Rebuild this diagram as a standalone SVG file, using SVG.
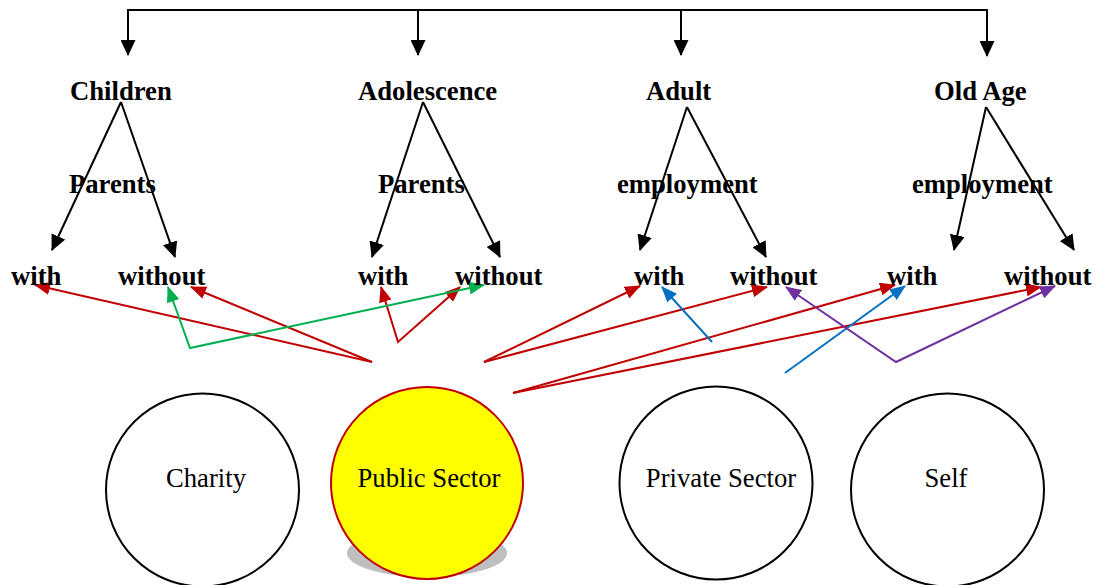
<svg xmlns="http://www.w3.org/2000/svg" width="1098" height="585" viewBox="0 0 1098 585">
<style>
.lbl{font-family:"Liberation Serif","Times New Roman",serif;font-size:26.67px;font-weight:bold;fill:#000}
.ctr{font-family:"Liberation Serif","Times New Roman",serif;font-size:26.67px;fill:#000}
.blk{stroke:#000;stroke-width:2;fill:none;marker-end:url(#ahK)}
.red{stroke:#c00000;stroke-width:2;fill:none;marker-end:url(#ahR)}
.red2{stroke:#c00000;stroke-width:2;fill:none;marker-start:url(#ahR);marker-end:url(#ahR)}
.grn{stroke:#00b050;stroke-width:2;fill:none;marker-start:url(#ahG);marker-end:url(#ahG)}
.blu{stroke:#0070c0;stroke-width:2;fill:none;marker-end:url(#ahB)}
.pur{stroke:#7030a0;stroke-width:2;fill:none;marker-start:url(#ahP);marker-end:url(#ahP)}
.circ{fill:#fff;stroke:#000;stroke-width:2}
</style>
<defs>
<marker id="ahK" markerUnits="userSpaceOnUse" markerWidth="16" markerHeight="15" viewBox="0 0 16 15" refX="15" refY="7.5" orient="auto-start-reverse"><path d="M0,0 L16,7.5 L0,15 z" fill="#000"/></marker>
<marker id="ahR" markerUnits="userSpaceOnUse" markerWidth="16" markerHeight="13" viewBox="0 0 16 13" refX="15" refY="6.5" orient="auto-start-reverse"><path d="M0,0 L16,6.5 L0,13 z" fill="#c00000"/></marker>
<marker id="ahG" markerUnits="userSpaceOnUse" markerWidth="16" markerHeight="13" viewBox="0 0 16 13" refX="15" refY="6.5" orient="auto-start-reverse"><path d="M0,0 L16,6.5 L0,13 z" fill="#00b050"/></marker>
<marker id="ahB" markerUnits="userSpaceOnUse" markerWidth="16" markerHeight="13" viewBox="0 0 16 13" refX="15" refY="6.5" orient="auto-start-reverse"><path d="M0,0 L16,6.5 L0,13 z" fill="#0070c0"/></marker>
<marker id="ahP" markerUnits="userSpaceOnUse" markerWidth="16" markerHeight="13" viewBox="0 0 16 13" refX="15" refY="6.5" orient="auto-start-reverse"><path d="M0,0 L16,6.5 L0,13 z" fill="#7030a0"/></marker>
</defs>
<rect width="1098" height="585" fill="#fff"/>

<g id="connectors">
<line x1="127" y1="10" x2="988" y2="10" stroke="#000" stroke-width="2"/>
<line class="blk" x1="128" y1="10" x2="128" y2="55"/>
<line class="blk" x1="418" y1="10" x2="418" y2="55"/>
<line class="blk" x1="681" y1="10" x2="681" y2="55"/>
<line class="blk" x1="987" y1="10" x2="987" y2="56"/>
<line class="blk" x1="121" y1="102" x2="52" y2="250"/>
<line class="blk" x1="121" y1="102" x2="175" y2="257"/>
<line class="blk" x1="423" y1="102" x2="372" y2="257"/>
<line class="blk" x1="423" y1="102" x2="500" y2="257"/>
<line class="blk" x1="687" y1="107" x2="640" y2="250"/>
<line class="blk" x1="687" y1="107" x2="766" y2="257"/>
<line class="blk" x1="986" y1="107" x2="954" y2="250"/>
<line class="blk" x1="986" y1="107" x2="1074" y2="250"/>
<line class="red" x1="372" y1="362" x2="35" y2="285"/>
<line class="red" x1="372" y1="362" x2="191" y2="287"/>
<polyline class="red2" points="381,287 398,342 460,287"/>
<polyline class="grn" points="168,287 190,348 484,285"/>
<line class="red" x1="484" y1="362" x2="640" y2="286"/>
<line class="red" x1="484" y1="362" x2="767" y2="287"/>
<line class="red" x1="513" y1="393" x2="895" y2="285"/>
<line class="red" x1="513" y1="393" x2="1041" y2="287"/>
<line class="blu" x1="712" y1="342" x2="662" y2="287"/>
<line class="blu" x1="785" y1="373" x2="905" y2="286"/>
<polyline class="pur" points="786,287 896,362 1055,286"/>
</g>

<g id="stage-children"><text class="lbl" x="70" y="100">Children</text></g>
<g id="stage-adolescence"><text class="lbl" x="358" y="100">Adolescence</text></g>
<g id="stage-adult"><text class="lbl" x="646" y="100">Adult</text></g>
<g id="stage-oldage"><text class="lbl" x="934" y="100">Old Age</text></g>

<g id="crit-parents-1"><text class="lbl" x="69" y="193">Parents</text></g>
<g id="crit-parents-2"><text class="lbl" x="378" y="193">Parents</text></g>
<g id="crit-employment-1"><text class="lbl" x="617" y="193">employment</text></g>
<g id="crit-employment-2"><text class="lbl" x="912" y="193">employment</text></g>

<g id="children-with"><text class="lbl" x="11" y="284.5">with</text></g>
<g id="children-without"><text class="lbl" x="118" y="284.5">without</text></g>
<g id="adolescence-with"><text class="lbl" x="358" y="284.5">with</text></g>
<g id="adolescence-without"><text class="lbl" x="455" y="284.5">without</text></g>
<g id="adult-with"><text class="lbl" x="634" y="284.5">with</text></g>
<g id="adult-without"><text class="lbl" x="730" y="284.5">without</text></g>
<g id="oldage-with"><text class="lbl" x="887" y="284.5">with</text></g>
<g id="oldage-without"><text class="lbl" x="1004" y="284.5">without</text></g>

<g id="charity">
<circle class="circ" cx="202.5" cy="490" r="96.5"/>
<text class="ctr" x="206" y="487" text-anchor="middle">Charity</text>
</g>
<g id="public-sector">
<ellipse cx="427" cy="553" rx="80" ry="24" fill="#bfbfbf"/>
<circle cx="427" cy="483" r="96" fill="#ffff00" stroke="#c00000" stroke-width="2"/>
<text class="ctr" x="429" y="487" text-anchor="middle">Public Sector</text>
</g>
<g id="private-sector">
<circle class="circ" cx="716" cy="483" r="96.5"/>
<text class="ctr" x="721" y="487" text-anchor="middle">Private Sector</text>
</g>
<g id="self">
<circle class="circ" cx="947.5" cy="490" r="96.5"/>
<text class="ctr" x="946" y="487" text-anchor="middle">Self</text>
</g>
</svg>
